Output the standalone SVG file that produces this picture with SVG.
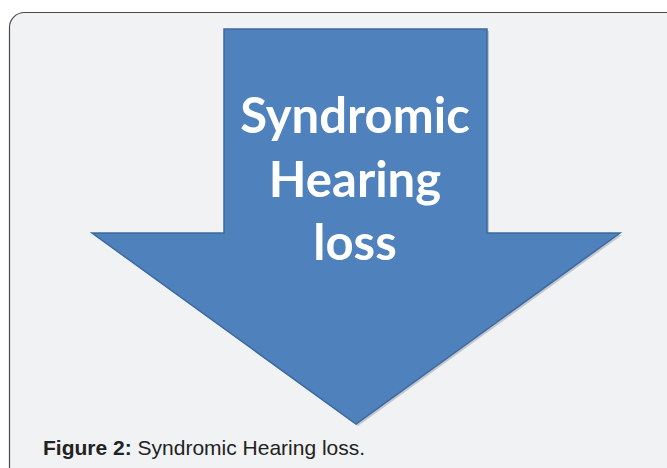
<svg xmlns="http://www.w3.org/2000/svg" width="667" height="468" viewBox="0 0 667 468">
<defs>
<style>
.frame{fill:#f1f2f4;stroke:#4a4a4a;stroke-width:1.2}
.arrow{fill:#4f81bd;stroke:#3d6a9f;stroke-width:1.5}
.shadow{fill:#9aa3ad;opacity:0.55}
.big{font-family:"Lato","Open Sans",sans-serif;font-weight:bold;font-size:49px;fill:#ffffff;text-anchor:middle}
.cap{font-family:"Liberation Sans",Arial,sans-serif;font-size:21px;fill:#222222}
</style>
</defs>
<rect x="0" y="0" width="667" height="468" fill="#ffffff"/>
<rect class="frame" x="9.5" y="12.5" width="700" height="500" rx="15" ry="15"/>
<g id="arrow">
<polygon class="shadow" points="226,31 489,31 489,235 622,235 358,426 94,235 226,235"/>
<polygon class="arrow" points="224,29 487,29 487,233 620,233 356,424 92,233 224,233"/>
<text class="big" x="355" y="133">Syndromic</text>
<text class="big" x="355" y="197">Hearing</text>
<text class="big" x="355" y="260">loss</text>
</g>
<text class="cap" x="43" y="455"><tspan font-weight="bold">Figure 2:</tspan> Syndromic Hearing loss.</text>
</svg>
